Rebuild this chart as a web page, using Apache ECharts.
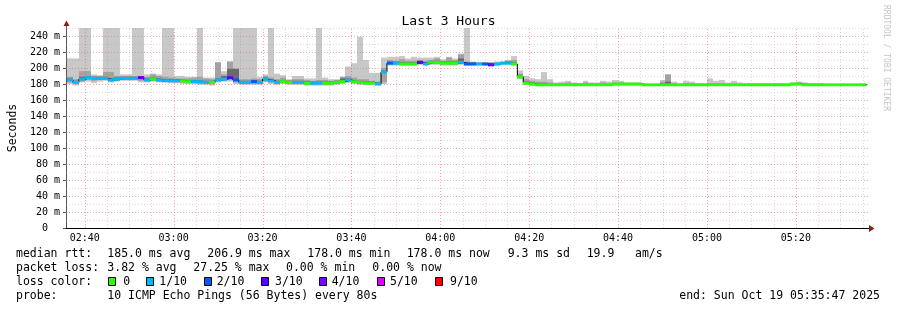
<!DOCTYPE html>
<html><head><meta charset="utf-8">
<script src="https://cdn.jsdelivr.net/npm/echarts@6/dist/echarts.min.js"></script>
<style>html,body{margin:0;padding:0;background:#fff}#c{width:897px;height:310px}</style>
</head><body><div id="c"></div>
<script>
// ---- data (times in minutes since midnight) ----
const axisStart = 155 + 47 / 60;   // 02:35:47
const axisEnd = 335 + 47 / 60;     // 05:35:47
const stepStart = 156;             // first step boundary 02:36:00
const stepLen = 80 / 60;           // 80 s per step

const median = [
185,182,186,188,187,187,187,185,186,187,
187,187,188,185,186,185,184,184,184,184,
183,183,183,182,182,185,186,188,185,182,
182,183,182,186,184,182,183,182,182,182,
181,181,181,181,181,182,183,185,183,182,
181,181,180,195,206,206,205,205,205,207,
205,207,207,206,206,206,207,205,205,205,
205,204,205,206,206,205,189,181,180,179,
179,179,179,179,179,179,179,179,179,179,
179,179,180,180,180,180,180,179,179,179,
179,179,179,179,179,179,179,179,179,179,
179,179,179,179,179,179,179,179,179,179,
179,179,180,180,179,179,179,179,179,179,
179,179,179,179,179];
const lossTenths = [
1,1,1,1,1,1,1,1,1,1,
1,1,3,1,0,1,1,1,1,0,
0,1,1,1,0,1,1,3,2,1,
1,2,1,1,1,1,0,0,1,1,
0,1,1,0,0,0,0,1,0,0,
0,0,1,1,2,1,0,0,0,3,
1,0,0,0,0,0,1,2,2,1,
2,3,1,1,1,0,0,0,0,0,
0,0,0,0,0,0,0,0,0,0,
0,0,0,0,0,0,0,0,0,0,
0,0,0,0,0,0,0,0,0,0,
0,0,0,0,0,0,0,0,0,0,
0,0,0,0,0,0,0,0,0,0,
0,0,0,0,0];
const pingMin = [
180,178,182,183,181,183,184,182,183,184,
184,184,182,182,183,182,182,181,181,180,
180,180,179,179,178,182,183,183,180,179,
179,179,179,182,180,179,180,179,179,179,
178,178,178,178,178,179,180,181,180,179,
179,179,178,180,203,203,203,203,203,204,
203,204,204,203,203,203,204,203,203,203,
203,202,203,204,204,203,186,179,178,178,
178,178,178,178,178,178,178,178,178,178,
178,178,178,178,178,178,178,178,178,178,
178,178,178,178,178,178,178,178,178,178,
178,178,178,178,178,178,178,178,178,178,
178,178,178,178,178,178,178,178,178,178,
178,178,178,178,178];
const pingLow2 = [
182,180,183,185,184,185,185,183,184,185,
185,185,184,183,184,183,183,182,182,182,
181,181,180,180,180,183,184,185,182,180,
180,180,180,183,182,180,181,180,180,180,
179,179,179,179,179,180,181,183,181,180,
180,180,179,182,204,204,204,204,204,205,
204,205,205,204,204,204,205,204,204,204,
204,203,204,205,205,204,187,180,179,178,
178,178,178,178,178,178,178,178,178,178,
178,178,179,179,179,179,179,178,178,178,
178,178,178,178,178,178,178,178,178,178,
178,178,178,178,178,178,178,178,178,178,
178,178,179,179,178,178,178,178,178,178,
178,178,178,178,178];
const pingHigh3 = [
187,184,189,190,189,189,189,187,188,189,
189,189,190,187,188,187,186,186,186,186,
185,185,185,184,184,187,190,199,199,184,
184,185,184,188,186,184,185,184,184,184,
183,183,183,183,183,184,187,187,185,184,
183,183,182,197,208,208,207,207,207,209,
207,209,209,208,208,208,212,207,207,206,
206,206,206,207,208,207,191,183,182,181,
181,180,180,180,180,180,180,180,180,180,
180,180,181,181,181,181,181,180,180,180,
181,183,180,180,180,180,180,180,180,180,
180,180,180,180,180,180,180,180,180,180,
180,180,181,181,180,180,180,180,180,180,
180,180,180,180,180];
const pingHigh2 = [
189,186,196,196,190,190,195,195,190,190,
190,190,190,189,192,190,189,188,187,187,
187,188,189,187,186,207,192,208,199,186,
186,187,186,190,188,186,188,185,186,186,
185,184,185,185,184,185,189,190,188,186,
186,184,183,200,210,209,211,209,209,210,
209,210,212,209,213,210,217,208,207,207,
207,207,207,208,209,210,193,186,184,183,
183,182,181,181,182,181,181,182,181,181,
182,181,182,182,181,181,181,180,180,180,
183,192,181,180,181,181,180,180,181,181,
181,180,181,180,180,180,180,180,180,180,
180,180,181,182,181,180,180,180,180,180,
180,180,180,180,180];
const pingMax = [
212,212,250,250,192,191,250,250,250,192,
192,250,250,192,193,192,250,250,190,190,
189,189,250,188,188,207,196,208,250,250,
250,250,189,192,250,193,191,186,190,190,
187,187,250,188,186,186,189,202,206,239,
210,194,194,213,214,214,215,212,214,213,
213,213,214,211,214,212,218,250,208,207,
207,207,208,208,210,215,197,190,187,186,
195,186,182,183,184,182,181,184,182,182,
184,183,185,184,182,182,182,181,180,180,
185,192,183,181,184,183,181,181,187,184,
185,182,184,182,181,181,181,181,181,181,
181,181,182,183,182,181,181,181,180,180,
180,180,180,180,180];

const lossColors = ['#26ff00','#00b8ff','#0059ff','#5e00ff','#7e00ff','#dd00ff','#ff0000'];
const lossLabels = ['0','1/10','2/10','3/10','4/10','5/10','9/10'];
const xTickValues = [160,180,200,220,240,260,280,300,320];
const xMinorGrid = [165,170,175,185,190,195,205,210,215,225,230,235,245,250,255,265,270,275,285,290,295,305,310,315,325,330,335];
const yTickValues = [0,20,40,60,80,100,120,140,160,180,200,220,240];
const yMinorGrid = [10,30,50,70,90,110,130,150,170,190,210,230,250];

const statRows = [
  ['median rtt:', '185.0 ms avg', '206.9 ms max', '178.0 ms min', '178.0 ms now', '9.3 ms sd', '19.9', 'am/s'],
  ['packet loss:', '3.82 % avg', '27.25 % max', '0.00 % min', '0.00 % now'],
];
const probeText = '10 ICMP Echo Pings (56 Bytes) every 80s';
const endText = 'end: Sun Oct 19 05:35:47 2025';

// ---- styles / layout ----
const FONT = '"DejaVu Sans Mono", monospace';
const bandHalf = 1.8;
const statX = [[16,107.3,207.3,307.3,406.7,507.7,586.7,635],[16,107.3,193.3,286,372.3]];
const statY = [254, 268];
const boxX = [108.5,146.5,204.5,261.5,319.5,377.5,435.5];
const boxLabelX = [123.3,159.3,216.7,275,331.7,390,450];

const times = median.map((_, i) => stepStart + i * stepLen);
const stepData = times.map((t, i) => [t, pingMin[i], pingLow2[i], pingHigh2[i], pingHigh3[i], pingMax[i], median[i], lossTenths[i]]);
const lineData = times.map((t, i) => [t, median[i]]);
lineData.push([times[times.length - 1] + stepLen, median[median.length - 1]]);

const gridData = [];
xTickValues.forEach(v => gridData.push([v, 0]));
xMinorGrid.forEach(v => gridData.push([v, 1]));
yTickValues.filter(v => v > 0).forEach(v => gridData.push([v, 2]));
yMinorGrid.forEach(v => gridData.push([v, 3]));

function hhmm(v) {
  const h = Math.floor(v / 60), m = Math.round(v - h * 60);
  return String(h).padStart(2, '0') + ':' + String(m).padStart(2, '0');
}

function rectBetween(api, t0, t1, a, b, color) {
  const p0 = api.coord([t0, b]);
  const p1 = api.coord([t1, a]);
  const x0 = Math.round(p0[0]), x1 = Math.round(p1[0]);
  return { type: 'rect', shape: { x: x0, y: p0[1], width: x1 - x0, height: p1[1] - p0[1] }, style: { fill: color } };
}

const chart = echarts.init(document.getElementById('c'), null, { renderer: 'canvas' });

const TXT = (x, y, text, extra) => Object.assign({ type: 'text', x: x, y: y, style: Object.assign({ text: text, font: '11.5px ' + FONT, fill: '#000', verticalAlign: 'middle', textVerticalAlign: 'middle' }, extra || {}) });
const graphics = [];
statRows.forEach((row, r) => {
  row.forEach((txt, k) => graphics.push(TXT(statX[r][k], statY[r], txt)));
});
graphics.push(TXT(16, 282, 'loss color:'));
lossColors.forEach((c, k) => {
  graphics.push({ type: 'rect', shape: { x: boxX[k], y: 277.5, width: 7, height: 8 }, style: { fill: c, stroke: '#000', lineWidth: 1 } });
  graphics.push(TXT(boxLabelX[k], 282, lossLabels[k]));
});
graphics.push(TXT(16, 296, 'probe:'));
graphics.push(TXT(107.3, 296, probeText));
graphics.push(TXT(880, 296, endText, { align: 'right', textAlign: 'right' }));
graphics.push({ type: 'text', x: 886, y: 58, rotation: -Math.PI / 2, style: { text: 'RRDTOOL / TOBI OETIKER', font: '8px ' + FONT, fill: '#c4c4c4', align: 'center', textAlign: 'center', verticalAlign: 'middle', textVerticalAlign: 'middle' } });
// axis extensions and arrows
graphics.push({ type: 'line', shape: { x1: 66.5, y1: 28, x2: 66.5, y2: 25 }, style: { stroke: '#555', lineWidth: 1 } });
graphics.push({ type: 'line', shape: { x1: 866, y1: 228.5, x2: 870, y2: 228.5 }, style: { stroke: '#000', lineWidth: 1 } });
graphics.push({ type: 'polygon', shape: { points: [[63.5, 26], [69.5, 26], [66.5, 20.5]] }, style: { fill: '#8b1c1c' } });
graphics.push({ type: 'polygon', shape: { points: [[869, 225], [869, 232], [874.5, 228.5]] }, style: { fill: '#8b1c1c' } });

const option = {
  animation: false,
  backgroundColor: '#fff',
  title: { text: 'Last 3 Hours', left: 'center', top: 10, textStyle: { fontFamily: FONT, fontSize: 13, fontWeight: 'normal', color: '#000' } },
  grid: { left: 66, right: 31, top: 28, bottom: 82, containLabel: false, outerBoundsMode: 'none' },
  xAxis: {
    type: 'value', min: axisStart, max: axisEnd,
    splitLine: { show: false },
    axisLine: { show: true, lineStyle: { color: '#000', width: 1 } },
    axisTick: { show: false },
    axisLabel: { customValues: xTickValues, formatter: hhmm, fontFamily: FONT, fontSize: 10, color: '#000', margin: 5 }
  },
  yAxis: {
    type: 'value', min: 0, max: 250, interval: 10,
    name: 'Seconds', nameLocation: 'middle', nameGap: 47, nameRotate: 90,
    nameTextStyle: { fontFamily: FONT, fontSize: 11.5, color: '#000' },
    splitLine: { show: false },
    axisLine: { show: true, lineStyle: { color: '#555', width: 1 } },
    axisTick: { show: true, length: 3, customValues: yTickValues, lineStyle: { color: '#555' } },
    axisLabel: { customValues: yTickValues, formatter: v => (v === 0 ? '0  ' : v + ' m'), fontFamily: FONT, fontSize: 10, color: '#000', margin: 6 }
  },
  graphic: { elements: graphics },
  series: [
    {
      type: 'custom', name: 'smoke', z: 1, clip: true, silent: true,
      data: stepData, encode: { x: 0, y: 1 },
      renderItem: (params, api) => {
        const t0 = api.value(0), t1 = t0 + stepLen;
        return { type: 'group', children: [
          rectBetween(api, t0, t1, api.value(1), api.value(5), '#c8c8c8'),
          rectBetween(api, t0, t1, api.value(2), api.value(3), '#a2a2a2'),
          rectBetween(api, t0, t1, api.value(6), api.value(4), '#6a6a6a')
        ] };
      }
    },
    {
      type: 'custom', name: 'grid', z: 2, silent: true,
      data: gridData,
      renderItem: (params, api) => {
        const v = api.value(0), kind = api.value(1);
        const color = (kind === 0 || kind === 2) ? 'rgba(240,90,90,0.55)' : 'rgba(150,150,150,0.35)';
        let a, b;
        if (kind < 2) { a = api.coord([v, 0]); b = api.coord([v, 250]); const x = Math.round(a[0]) + 0.5; a = [x, a[1]]; b = [x, b[1]]; }
        else { a = api.coord([axisStart, v]); b = api.coord([axisEnd, v]); const y = Math.round(a[1]) + 0.5; a = [a[0], y]; b = [b[0] + 2, y]; }
        return { type: 'line', shape: { x1: a[0], y1: a[1], x2: b[0], y2: b[1] }, style: { stroke: color, lineWidth: 1, lineDash: [1, 2] } };
      }
    },
    {
      type: 'line', name: 'median', z: 3, step: 'end', showSymbol: false, symbol: 'none', silent: true,
      data: lineData, lineStyle: { color: '#000', width: 1 }
    },
    {
      type: 'custom', name: 'loss', z: 4, clip: true, silent: true,
      data: stepData, encode: { x: 0, y: 6 },
      renderItem: (params, api) => {
        const t0 = api.value(0), t1 = t0 + stepLen, m = api.value(6);
        return rectBetween(api, t0, t1, m - bandHalf, m + bandHalf, lossColors[api.value(7)]);
      }
    }
  ]
};
chart.setOption(option);
</script>
</body></html>
